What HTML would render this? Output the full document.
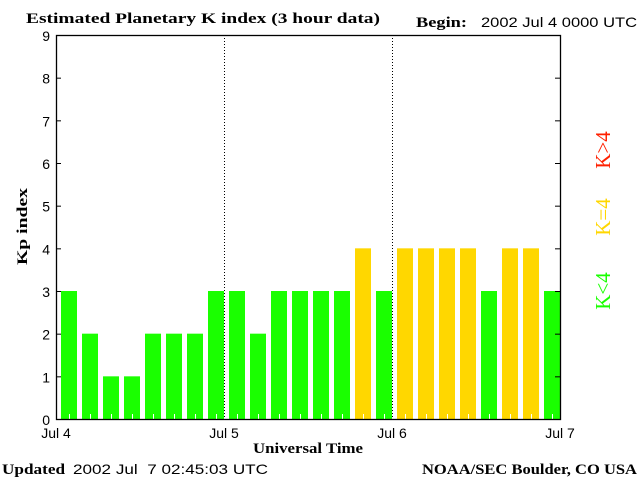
<!DOCTYPE html>
<html><head><meta charset="utf-8"><style>
body{margin:0;background:#fff;width:640px;height:480px;overflow:hidden}
svg{display:block}
.s{font-family:"Liberation Sans",sans-serif;font-size:14px}
.b{font-family:"Liberation Serif",serif;font-weight:bold;font-size:15px}
</style></head><body>
<svg id="c" width="640" height="480">
<text class="b" x="26" y="23" textLength="354" lengthAdjust="spacingAndGlyphs">Estimated Planetary K index (3 hour data)</text>
<text class="b" x="416" y="27" textLength="51" lengthAdjust="spacingAndGlyphs">Begin:</text>
<text class="s" x="481" y="27" textLength="156" lengthAdjust="spacingAndGlyphs">2002 Jul 4 0000 UTC</text>
<text class="b" x="2" y="474" textLength="63" lengthAdjust="spacingAndGlyphs">Updated</text>
<text class="s" x="73" y="474" textLength="195" lengthAdjust="spacingAndGlyphs" xml:space="preserve">2002 Jul  7 02:45:03 UTC</text>
<text class="b" x="422" y="474" textLength="215" lengthAdjust="spacingAndGlyphs">NOAA/SEC Boulder, CO USA</text>
<text class="b" x="253" y="453" textLength="110" lengthAdjust="spacingAndGlyphs">Universal Time</text>
<text class="b" transform="translate(27,265) rotate(-90)" textLength="77" lengthAdjust="spacingAndGlyphs">Kp index</text>
<text transform="translate(610,291) rotate(-90)" text-anchor="middle" font-family="Liberation Serif,serif" font-size="21" fill="#1aff00">K&lt;4</text>
<text transform="translate(610,217) rotate(-90)" text-anchor="middle" font-family="Liberation Serif,serif" font-size="21" fill="#ffd700">K=4</text>
<text transform="translate(610,150) rotate(-90)" text-anchor="middle" font-family="Liberation Serif,serif" font-size="21" fill="#ff2000">K&gt;4</text>
<g id="g"></g>
</svg>
<script>
const kpValues=[3,2,1,1,2,2,2,3, 3,2,3,3,3,3,4,3, 4,4,4,4,3,4,4,3];
const dayLabels=["Jul 4","Jul 5","Jul 6","Jul 7"];
const yTicks=[0,1,2,3,4,5,6,7,8,9];
const L=56,R=560,T=35,B=419;
const NS="http://www.w3.org/2000/svg";
const g=document.getElementById('g');
const xs=i=>L+(R-L)*i/kpValues.length;
const ys=v=>B-(B-T)*v/9;
function mk(t,a){const e=document.createElementNS(NS,t);for(const k in a)e.setAttribute(k,a[k]);g.appendChild(e);return e;}
kpValues.forEach((v,i)=>{
 const c=v<4?'#1aff00':(v==4?'#ffd700':'#ff2000');
 const r=mk('rect',{x:xs(i)+5,y:ys(v),width:16,height:B-ys(v),fill:c});
 
 
 const t=mk('line',{x1:xs(i)+13.5,x2:xs(i)+13.5,y1:B-5,y2:B,stroke:'#fff'});
 
 
});
dayLabels.forEach((d,i)=>{
 const x=L+(R-L)*i/(dayLabels.length-1);
 if(i>0&&i<dayLabels.length-1){
  const l=mk('line',{x1:x+0.5,x2:x+0.5,y1:T,y2:B,stroke:'#000','stroke-dasharray':'1,2'});
  
  
 }
 const t=mk('text',{x:x,y:438,'text-anchor':'middle',class:'s'});
 t.textContent=d;
 
 
});
yTicks.forEach(v=>{
 const y=ys(v);
 const t=mk('text',{x:50,y:y+6,'text-anchor':'end',class:'s','font-size':'16'});
 t.textContent=v;
 
 
 const a=mk('line',{x1:L,x2:L+5,y1:y+.5,y2:y+.5,stroke:'#000'});
 
 
 const b=mk('line',{x1:R-5,x2:R,y1:y+.5,y2:y+.5,stroke:'#000'});
 
 
});
const f=mk('rect',{x:L+.5,y:T+.5,width:R-L,height:B-T,fill:'none',stroke:'#000','stroke-width':1.3});


</script>
</body></html>
